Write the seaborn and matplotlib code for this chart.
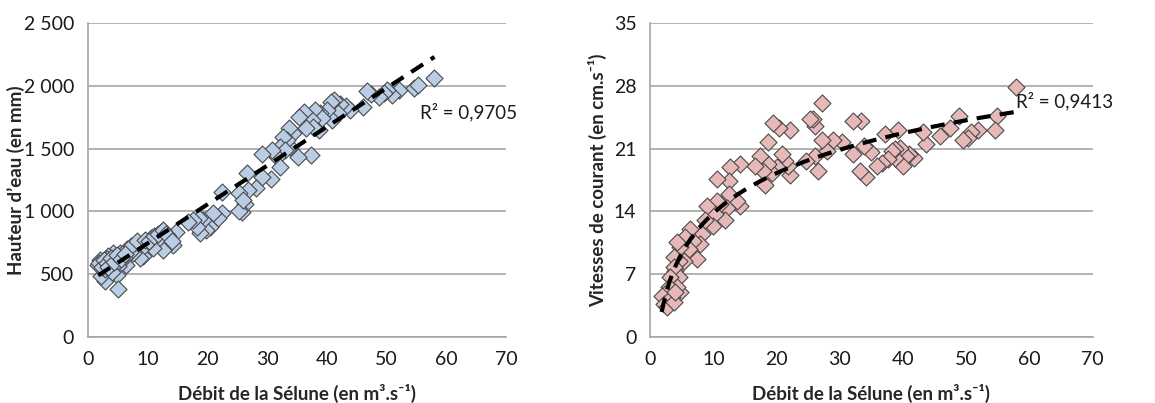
import numpy as np
import pandas as pd
import matplotlib
matplotlib.use('Agg')
import matplotlib.pyplot as plt
import seaborn as sns

# débit (m3/s) vs hauteur d'eau (mm)
hauteur_debit = [58.0, 54.5, 55.2, 52.0, 50.9, 50.0, 49.6, 48.8, 47.4, 46.7, 46.1, 43.9, 43.2, 42.2,
                 41.1, 40.7, 41.8, 40.8, 40.0, 38.6, 38.9, 38.0, 39.1, 37.5, 37.7, 37.3, 36.5, 36.1,
                 35.4, 35.2, 34.4, 33.7, 33.8, 33.3, 32.7, 32.1, 33.0, 31.6, 32.1, 30.8, 30.6, 29.1,
                 29.1, 28.1, 26.8, 26.7, 26.3, 25.7, 25.2, 25.3, 25.9, 22.5, 22.4, 21.8, 21.0, 20.4,
                 19.8, 19.3, 18.7, 18.6, 18.2, 17.6, 16.8, 14.8, 14.2, 13.4, 12.6, 12.3, 11.5, 10.9,
                 10.6, 9.8, 9.2, 8.7, 8.7, 8.0, 7.5, 7.1, 6.4, 6.0, 5.3, 5.0, 4.8, 5.0, 4.2, 4.2,
                 3.6, 3.4, 3.0, 2.5, 2.8, 2.0, 2.2, 2.0, 1.7, 3.2, 3.8, 4.5, 2.4, 2.9, 3.5, 4.0,
                 6.5, 7.2, 8.2, 9.5, 10.2, 11.0, 11.8, 12.5, 13.0, 14.0,
                 1.9, 2.3, 2.6, 3.1, 3.3, 3.9, 4.4, 4.9, 5.6, 6.2]
hauteur_mm = [2063, 1986, 2005, 1970, 1925, 1965, 1944, 1907, 1938, 1960, 1827, 1806, 1838, 1854,
              1885, 1872, 1780, 1727, 1806, 1647, 1780, 1806, 1740, 1727, 1674, 1449, 1660, 1793,
              1753, 1435, 1621, 1660, 1515, 1568, 1594, 1515, 1488, 1435, 1356, 1488, 1255, 1456,
              1276, 1184, 1170, 1308, 1059, 998, 1006, 1144, 1091, 1157, 985, 945, 985, 879,
              853, 932, 826, 945, 879, 932, 919, 839, 733, 800, 694, 839, 773, 707,
              786, 747, 641, 694, 628, 720, 667, 680, 575, 628, 667, 561, 495, 381, 667, 561,
              508, 641, 561, 588, 442, 561, 482, 614, 575, 620, 600, 640, 600, 540, 580, 520,
              700, 720, 760, 770, 760, 800, 820, 850, 820, 760,
              590, 560, 610, 590, 560, 630, 600, 650, 620, 660]

# débit (m3/s) vs vitesse de courant (cm/s)
vitesse_debit = [57.8, 54.8, 54.5, 51.8, 50.8, 50.3, 49.5, 48.8, 47.4, 45.8, 43.7, 43.2, 41.8, 41.0,
                 40.5, 40.0, 39.5, 39.2, 38.7, 38.7, 38.2, 37.6, 37.1, 36.6, 35.9, 35.0, 34.1, 33.9,
                 33.2, 33.3, 32.1, 32.1, 30.3, 28.9, 27.9, 27.1, 27.1, 26.6, 26.1, 26.1, 25.8, 25.2,
                 24.7, 22.1, 22.1, 21.8, 21.3, 20.8, 20.3, 19.5, 20.0, 19.2, 18.7, 18.7, 18.2, 17.9,
                 17.4, 16.6, 14.2, 14.2, 13.7, 12.6, 12.4, 12.4, 12.1, 11.8, 11.1, 10.5, 10.5, 10.3,
                 10.0, 8.9, 8.7, 8.2, 7.9, 7.4, 6.8, 6.3, 6.1, 5.5, 5.3, 4.7, 4.5, 4.2, 3.9, 3.7,
                 4.5, 4.7, 4.2, 3.7, 3.2, 2.9, 2.6, 2.4, 1.8, 2.1, 2.7, 3.4, 3.7, 3.9]
vitesse_cms = [27.85, 24.6, 23.1, 23.1, 22.8, 22.2, 21.9, 24.6, 23.3, 22.4, 21.5, 22.8, 20.0, 20.4,
               20.2, 19.1, 21.1, 23.1, 20.0, 20.9, 20.7, 19.8, 22.6, 19.4, 19.1, 20.6, 17.8, 21.3,
               18.5, 24.1, 24.1, 20.4, 21.7, 22.0, 20.7, 26.1, 21.9, 18.5, 20.2, 23.5, 24.3, 24.3,
               19.6, 23.1, 18.1, 19.1, 19.6, 20.4, 23.3, 23.8, 18.9, 18.3, 19.3, 21.7, 16.9, 18.5,
               20.2, 19.1, 19.3, 14.6, 15.2, 18.9, 17.4, 15.9, 14.4, 13.0, 14.8, 15.2, 17.6, 13.7,
               12.4, 14.6, 13.0, 11.5, 10.4, 8.7, 10.7, 12.0, 9.8, 11.1, 8.5, 10.0, 8.5, 10.6, 7.4, 8.9,
               6.7, 5.0, 5.6, 7.8, 6.7, 5.6, 4.1, 4.8, 4.6, 3.7, 3.3, 4.4, 3.9, 5.0]

hauteur_ticks = [0, 500, 1000, 1500, 2000, 2500]
hauteur_tick_labels = ['0', '500', '1 000', '1 500', '2 000', '2 500']
vitesse_ticks = [0, 7, 14, 21, 28, 35]
debit_ticks = [0, 10, 20, 30, 40, 50, 60, 70]

df_h = pd.DataFrame({'debit': hauteur_debit, 'hauteur': hauteur_mm})
df_v = pd.DataFrame({'debit': vitesse_debit, 'vitesse': vitesse_cms})

sns.set_style('white')
plt.rcParams['font.family'] = ['Lato', 'DejaVu Sans']

GRID = '#a6a6a6'
fig = plt.figure(figsize=(11.55, 4.03), dpi=100)
ax1 = fig.add_axes([0.0762, 0.164, 0.362, 0.779])
ax2 = fig.add_axes([0.563, 0.164, 0.383, 0.779])

line_kws = dict(color='black', lw=3.0, dashes=(3.4, 2.2), zorder=4)

sns.scatterplot(data=df_h, x='debit', y='hauteur', marker='D', s=75, color='#b9cde5',
                edgecolor='#4a4a4a', linewidth=0.8, ax=ax1, zorder=3)
sns.regplot(data=df_h, x='debit', y='hauteur', scatter=False, ci=None, ax=ax1,
            line_kws=line_kws)

sns.scatterplot(data=df_v, x='debit', y='vitesse', marker='D', s=75, color='#e6b9b8',
                edgecolor='#4a4a4a', linewidth=0.8, ax=ax2, zorder=3)
sns.regplot(data=df_v, x='debit', y='vitesse', logx=True, scatter=False, ci=None, ax=ax2,
            line_kws=line_kws)

for ax in (ax1, ax2):
    ax.set_xlim(0, 70)
    ax.set_xticks(debit_ticks)
    ax.grid(True, axis='y', color=GRID, lw=1.2)
    ax.set_axisbelow(True)
    for side in ('top', 'right'):
        ax.spines[side].set_visible(False)
    for side in ('left', 'bottom'):
        ax.spines[side].set_color(GRID)
        ax.spines[side].set_linewidth(1.2)
    ax.tick_params(axis='both', direction='out', length=5, width=1.2, color=GRID,
                   labelsize=14, labelcolor='#1a1a1a', pad=5)
    ax.set_xlabel('Débit de la Sélune (en m³.s⁻¹)', fontsize=13.5, fontweight='bold')
    ax.xaxis.set_label_coords(0.5, -0.15)

ax1.set_ylim(0, 2500)
ax1.set_yticks(hauteur_ticks)
ax1.set_yticklabels(hauteur_tick_labels)
ax1.set_ylabel('Hauteur d’eau (en mm)', fontsize=13.5, fontweight='bold')
ax1.yaxis.set_label_coords(-0.151, 0.5)

ax2.set_ylim(0, 35)
ax2.set_yticks(vitesse_ticks)
ax2.set_ylabel('Vitesses de courant (en cm.s⁻¹)', fontsize=13.5, fontweight='bold')
ax2.yaxis.set_label_coords(-0.097, 0.5)

ax1.text(55.5, 1793, 'R² = 0,9705', fontsize=13.5, va='center', ha='left', color='#1a1a1a', clip_on=False)
ax2.text(57.9, 26.3, 'R² = 0,9413', fontsize=13.5, va='center', ha='left', color='#1a1a1a', clip_on=False)

fig.savefig('out.png', dpi=100)
